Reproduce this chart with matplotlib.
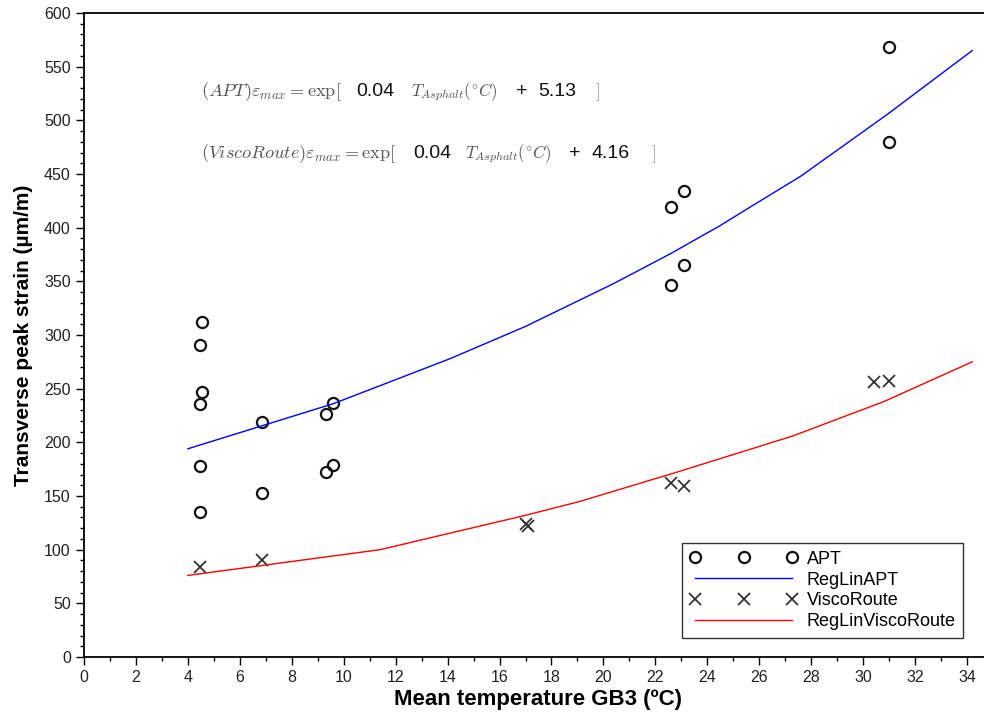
import matplotlib
matplotlib.use("Agg")
import matplotlib.pyplot as plt
from matplotlib.ticker import MultipleLocator

plt.rcParams['font.family'] = ['Liberation Sans', 'DejaVu Sans']
plt.rcParams['mathtext.fontset'] = 'cm'

# measured points
apt_temp = [4.55, 4.45, 4.55, 4.45, 4.45, 4.45, 6.84, 6.84, 9.3, 9.6, 9.3, 9.6,
            22.6, 23.1, 22.6, 23.1, 31.0, 31.0]
apt_strain = [312, 291, 247, 236, 178, 135, 219, 153, 226, 237, 172, 179,
              419, 434, 347, 365, 568, 480]

visco_temp = [4.45, 6.84, 17.0, 17.1, 22.6, 23.1, 30.4, 31.0]
visco_strain = [84, 90, 124, 122, 162, 159, 256, 257]

# regression curves
reg_apt_temp = [4.0, 9.6, 14.1, 17.0, 20.4, 22.6, 24.5, 25.3, 27.6, 30.9, 34.2]
reg_apt_strain = [194, 236, 278, 308, 348, 376, 402, 414, 448, 505, 565]

reg_visco_temp = [4.0, 11.4, 17.0, 19.1, 22.8, 27.3, 30.8, 34.2]
reg_visco_strain = [76, 100, 132, 145, 172, 206, 238, 275]

apt_coef = ("0.04", "5.13")
visco_coef = ("0.04", "4.16")

W, H = 984, 715
fig = plt.figure(figsize=(W / 100, H / 100), dpi=100)
ax = fig.add_axes([84 / W, (H - 657) / H, 909 / W, 644 / H])

ax.plot(apt_temp, apt_strain, 'o', ls='none', mfc='none', mec='#111111',
        ms=8, mew=1.6, label='APT')
ax.plot(reg_apt_temp, reg_apt_strain, color='#0000ff', lw=1, label='RegLinAPT')
ax.plot(visco_temp, visco_strain, 'x', ls='none', color='#333333',
        ms=8, mew=1.3, label='ViscoRoute')
ax.plot(reg_visco_temp, reg_visco_strain, color='#ff0000', lw=1,
        label='RegLinViscoRoute')

ax.set_xlim(0, 35)
ax.set_ylim(0, 600)
ax.xaxis.set_major_locator(MultipleLocator(2))
ax.xaxis.set_minor_locator(MultipleLocator(1))
ax.yaxis.set_major_locator(MultipleLocator(50))
ax.yaxis.set_minor_locator(MultipleLocator(10))
ax.tick_params(which='major', direction='out', length=6, width=1, labelsize=11.5,
               colors='black', labelcolor='#222222')
ax.tick_params(which='minor', direction='out', length=3, width=1)
for s in ax.spines.values():
    s.set_linewidth(1.3)

ax.set_xlabel('Mean temperature GB3 (ºC)', fontsize=16, fontweight='bold', labelpad=3)
ax.set_ylabel('Transverse peak strain (µm/m)', fontsize=15, fontweight='bold', labelpad=8)

leg = ax.legend(loc='lower right', bbox_to_anchor=(0.967, 0.03), borderaxespad=0,
                numpoints=3, handlelength=6.0, fontsize=13, fancybox=False,
                labelspacing=0.22, handletextpad=0.5, borderpad=0.4)
leg.get_frame().set_edgecolor('black')
leg.get_frame().set_linewidth(1)

def px(x, y):
    return x / W, 1 - y / H

gray = '#555555'
for yc, name, coef, xs in [
    (92, 'APT', apt_coef, (201, 356, 411, 522, 538, 595)),
    (154, 'ViscoRoute', visco_coef, (201, 413, 465, 575, 592, 651)),
]:
    fig.text(*px(xs[0], yc), r'$(%s)\varepsilon_{max} = \exp[$' % name,
             fontsize=13.2, color=gray, va='center')
    fig.text(*px(xs[1], yc), coef[0], fontsize=14, color='#111111', va='center')
    fig.text(*px(xs[2], yc), r'$T_{Asphalt}(^{\circ}C)$', fontsize=12.3, color=gray,
             va='center')
    fig.text(*px(xs[3], yc), '+', fontsize=14, color='#111111', va='center', ha='center')
    fig.text(*px(xs[4], yc), coef[1], fontsize=14, color='#111111', va='center')
    fig.text(*px(xs[5], yc), r'$]$', fontsize=13, color='#999999', va='center')

fig.savefig('out.png', dpi=100)
